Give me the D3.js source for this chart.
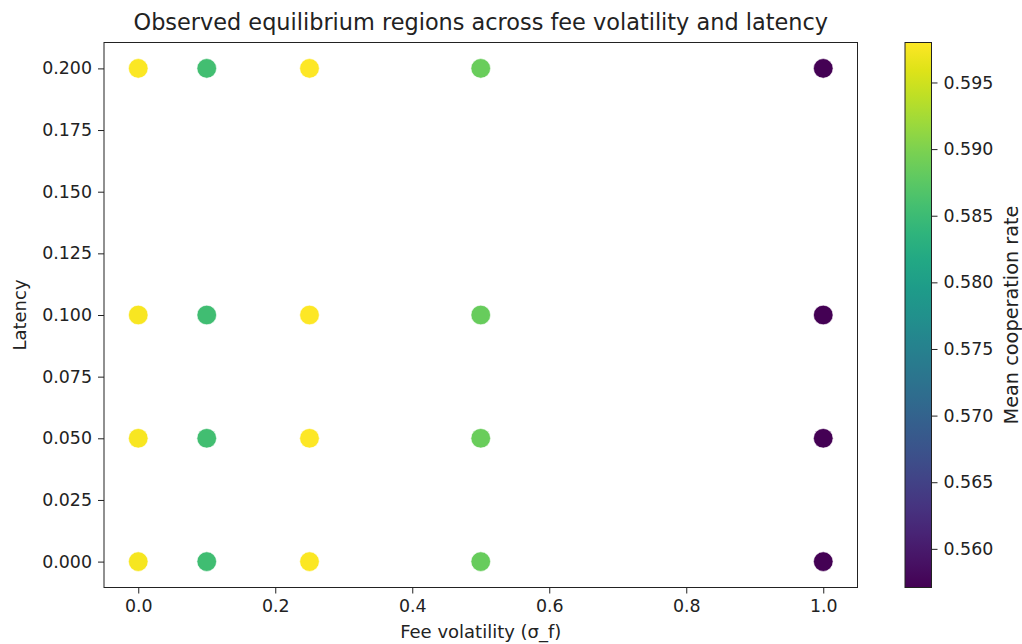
<!DOCTYPE html>
<html>
<head>
<meta charset="utf-8">
<script src="https://cdn.jsdelivr.net/npm/d3@7"></script>
<style>
  body { margin: 0; background: #fff; }
  svg text { font-family: "DejaVu Sans", sans-serif; fill: #222; }
</style>
</head>
<body>
<div id="chart"></div>
<script>
// fee volatility values (columns) and latency values (rows)
var feeVolatility = [0.0, 0.1, 0.25, 0.5, 1.0];
var latency = [0.0, 0.05, 0.1, 0.2];
// mean cooperation rate, one row per latency, one entry per fee volatility
var cooperation = [
  [0.5975, 0.5855, 0.5978, 0.5885, 0.5572],
  [0.5976, 0.5856, 0.5979, 0.5886, 0.5571],
  [0.5976, 0.5855, 0.5979, 0.5885, 0.5572],
  [0.5977, 0.5856, 0.5980, 0.5886, 0.5571]
];
var xTicks = [0.0, 0.2, 0.4, 0.6, 0.8, 1.0];
var yTicks = [0.000, 0.025, 0.050, 0.075, 0.100, 0.125, 0.150, 0.175, 0.200];
var cTicks = [0.560, 0.565, 0.570, 0.575, 0.580, 0.585, 0.590, 0.595];

var W = 1022, H = 644;
var plot = {left: 104, top: 42.5, right: 857.5, bottom: 587.5};
var cbar = {left: 905, right: 931.5};

var svg = d3.select('#chart').append('svg')
  .attr('width', W).attr('height', H);

var x = d3.scaleLinear().domain([-0.05, 1.05]).range([plot.left, plot.right]);
var y = d3.scaleLinear().domain([-0.0105, 0.2105]).range([plot.bottom, plot.top]);

var points = [];
latency.forEach(function(l, i) {
  feeVolatility.forEach(function(f, j) {
    points.push({f: f, l: l, c: cooperation[i][j]});
  });
});
var cMin = d3.min(points, function(d) { return d.c; });
var cMax = d3.max(points, function(d) { return d.c; });
var color = d3.scaleSequential(d3.interpolateViridis).domain([cMin, cMax]);

// axes
var xAxis = svg.append('g')
  .attr('transform', 'translate(0,' + plot.bottom + ')')
  .call(d3.axisBottom(x).tickValues(xTicks).tickFormat(d3.format('.1f')).tickSizeOuter(0).tickSize(6).tickPadding(6));
var yAxis = svg.append('g')
  .attr('transform', 'translate(' + plot.left + ',0)')
  .call(d3.axisLeft(y).tickValues(yTicks).tickFormat(d3.format('.3f')).tickSizeOuter(0).tickSize(6).tickPadding(6));
[xAxis, yAxis].forEach(function(a) {
  a.select('.domain').remove();
  a.selectAll('text').style('font-size', '17.4px').style('fill', '#222');
  a.selectAll('line').style('stroke', '#222');
});

svg.append('rect')
  .attr('x', plot.left).attr('y', plot.top)
  .attr('width', plot.right - plot.left).attr('height', plot.bottom - plot.top)
  .attr('fill', 'none').attr('stroke', '#222').attr('stroke-width', 1);

svg.selectAll('circle.pt')
  .data(points)
  .enter()
  .append('circle')
  .attr('class', 'pt')
  .attr('cx', function(d) { return x(d.f); })
  .attr('cy', function(d) { return y(d.l); })
  .attr('r', 9.8)
  .attr('fill', function(d) { return color(d.c); })
  .attr('stroke', '#fff')
  .attr('stroke-width', 0.6);

// title and labels
svg.append('text')
  .attr('x', (plot.left + plot.right) / 2).attr('y', 30)
  .attr('text-anchor', 'middle').style('font-size', '22.4px')
  .text('Observed equilibrium regions across fee volatility and latency');
svg.append('text')
  .attr('x', (plot.left + plot.right) / 2).attr('y', 638)
  .attr('text-anchor', 'middle').style('font-size', '18px')
  .text('Fee volatility (σ_f)');
svg.append('text')
  .attr('transform', 'translate(25.5,' + ((plot.top + plot.bottom) / 2) + ') rotate(-90)')
  .attr('text-anchor', 'middle').style('font-size', '18px')
  .text('Latency');

// colorbar
var cy = d3.scaleLinear().domain([cMin, cMax]).range([plot.bottom, plot.top]);
var defs = svg.append('defs');
var grad = defs.append('linearGradient').attr('id', 'viridis')
  .attr('x1', 0).attr('y1', 1).attr('x2', 0).attr('y2', 0);
d3.range(0, 1.0001, 0.05).forEach(function(t) {
  grad.append('stop').attr('offset', t).attr('stop-color', d3.interpolateViridis(t));
});
svg.append('rect')
  .attr('x', cbar.left).attr('y', plot.top)
  .attr('width', cbar.right - cbar.left).attr('height', plot.bottom - plot.top)
  .attr('fill', 'url(#viridis)').attr('stroke', '#222').attr('stroke-width', 1);
var cAxis = svg.append('g')
  .attr('transform', 'translate(' + cbar.right + ',0)')
  .call(d3.axisRight(cy).tickValues(cTicks).tickFormat(d3.format('.3f')).tickSizeOuter(0).tickSize(6).tickPadding(6));
cAxis.select('.domain').remove();
cAxis.selectAll('text').style('font-size', '17.4px').style('fill', '#222');
cAxis.selectAll('line').style('stroke', '#222');
svg.append('text')
  .attr('transform', 'translate(1018,' + ((plot.top + plot.bottom) / 2) + ') rotate(-90)')
  .attr('text-anchor', 'middle').style('font-size', '19.3px')
  .text('Mean cooperation rate');
</script>
</body>
</html>
